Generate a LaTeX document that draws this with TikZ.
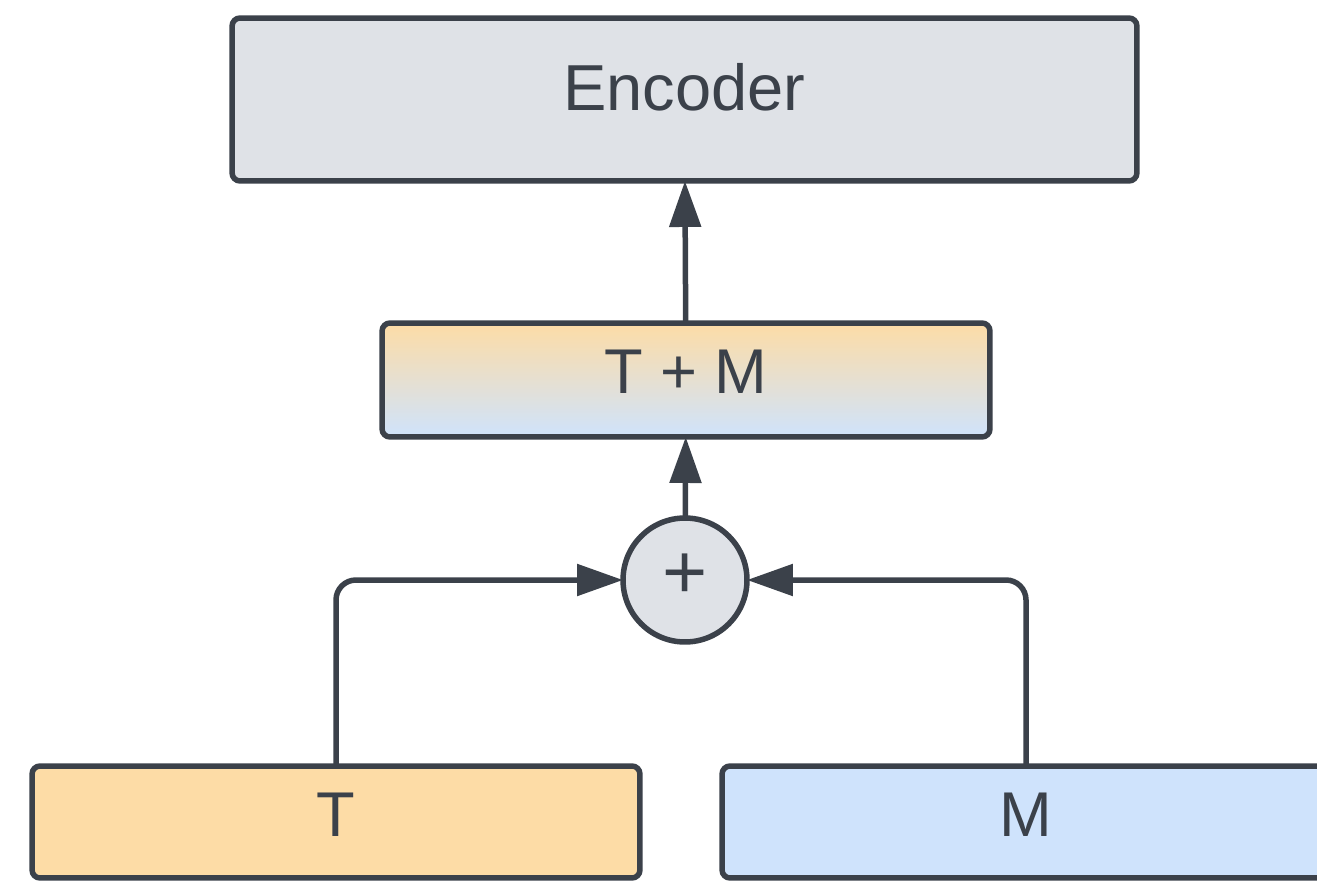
\documentclass[tikz,border=0pt]{standalone}
\usepackage{fontspec}
\setmainfont{Liberation Sans}
\usepackage{tikz}
\usetikzlibrary{arrows.meta}

\definecolor{ink}{HTML}{3B414A}
\definecolor{encgray}{HTML}{DFE2E7}
\definecolor{torange}{HTML}{FDDCA6}
\definecolor{mblue}{HTML}{CFE3FC}

\begin{document}
\begin{tikzpicture}[x=0.02cm,y=-0.02cm,line width=0.11cm,draw=ink,text=ink,
    >={Triangle[length=0.92cm,width=0.62cm]}]
    \tikzstyle{block}=[rectangle,draw=ink,rounded corners=0.16cm,inner sep=0pt,outer sep=0pt,font=\fontsize{36}{40}\selectfont]
    \tikzstyle{enc block}=[block,fill=encgray,minimum width=18.1cm,minimum height=3.26cm,font=\fontsize{37}{42}\selectfont];
    \tikzstyle{mix block}=[block,top color=torange,bottom color=mblue,minimum width=12.16cm,minimum height=2.28cm];
    \tikzstyle{t block}=[block,fill=torange,minimum width=12.16cm,minimum height=2.24cm];
    \tikzstyle{m block}=[block,fill=mblue,minimum width=12.16cm,minimum height=2.24cm];
    \tikzstyle{sum}=[circle,draw=ink,fill=encgray,minimum size=2.48cm,inner sep=0pt,outer sep=0pt,font=\fontsize{44}{48}\selectfont];
    \tikzstyle{link}=[->,rounded corners=0.4cm]

    \useasboundingbox (0,0) rectangle (1317,881);

    % Draw the blocks
    \node[enc block] (Enc) at (684.5,99.5) {\raisebox{0.5cm}{Encoder}};
    \node[mix block] (TM) at (686,380) {\raisebox{0.32cm}{T + M}};
    \node[sum] (Sum) at (685,580) {\raisebox{0.14cm}{+}};
    \node[t block] (T) at (336,822) {\raisebox{0.3cm}{T}};
    \node[m block] (M) at (1026,822) {\raisebox{0.3cm}{M}};

    % Connect them
    \draw[link] (T.north) |- (Sum.west);
    \draw[link] (M.north) |- (Sum.east);
    \path[->] (Sum) edge (TM);
    \path[->] (TM) edge (Enc);
\end{tikzpicture}
\end{document}
